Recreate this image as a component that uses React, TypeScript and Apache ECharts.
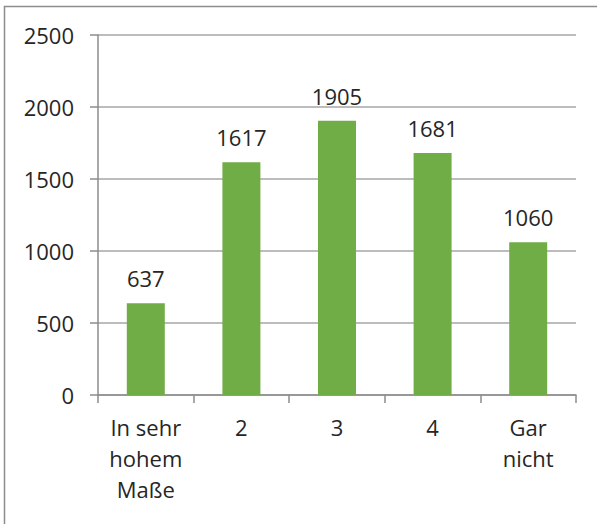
import React, { useEffect, useRef } from "react";
import * as echarts from "echarts";

const categories = ["In sehr\nhohem\nMaße", "2", "3", "4", "Gar\nnicht"];
const values = [637, 1617, 1905, 1681, 1060];
const yTicks = [0, 500, 1000, 1500, 2000, 2500];

const FONT = "'Open Sans', 'Noto Sans', sans-serif";
const TEXT = "#262626";

export default function App() {
  const ref = useRef<HTMLDivElement>(null);
  useEffect(() => {
    document.body.style.margin = "0";
    const chart = echarts.init(ref.current!, undefined, { renderer: "svg" });
    chart.setOption({
      animation: false,
      backgroundColor: "#ffffff",
      graphic: [
        {
          type: "rect",
          shape: { x: 4.5, y: 6.5, width: 620, height: 560 },
          style: { fill: "none", stroke: "#8c8c8c", lineWidth: 1.5 },
          silent: true,
        },
      ],
      grid: { left: 98, right: 21, top: 35, bottom: 129, containLabel: false },
      xAxis: {
        type: "category",
        data: categories,
        axisLine: { show: true, lineStyle: { color: "#8c8c8c", width: 1.5 } },
        axisTick: { show: true, length: 8, alignWithLabel: false, lineStyle: { color: "#8c8c8c", width: 1.5 } },
        axisLabel: {
          color: TEXT,
          fontFamily: FONT,
          fontSize: 22,
          lineHeight: 31,
          margin: 16,
          interval: 0,
        },
      },
      yAxis: {
        type: "value",
        min: yTicks[0],
        max: yTicks[yTicks.length - 1],
        interval: 500,
        axisLine: { show: true, lineStyle: { color: "#8c8c8c", width: 1.5 } },
        axisTick: { show: true, length: 8, lineStyle: { color: "#8c8c8c", width: 1.5 } },
        splitLine: { show: true, lineStyle: { color: "#a6a6a6", width: 1.5 } },
        axisLabel: {
          color: TEXT,
          fontFamily: FONT,
          fontSize: 22,
          margin: 24,
          formatter: (v: number) => String(v),
        },
      },
      series: [
        {
          type: "bar",
          data: values,
          barWidth: 38,
          itemStyle: { color: "#70AD47" },
          label: {
            show: true,
            position: "top",
            distance: 14,
            color: TEXT,
            fontFamily: FONT,
            fontSize: 22,
          },
        },
      ],
    });
    return () => chart.dispose();
  }, []);
  return (
    <div
      ref={ref}
      style={{ position: "absolute", left: 0, top: 0, width: 597, height: 524 }}
    />
  );
}
